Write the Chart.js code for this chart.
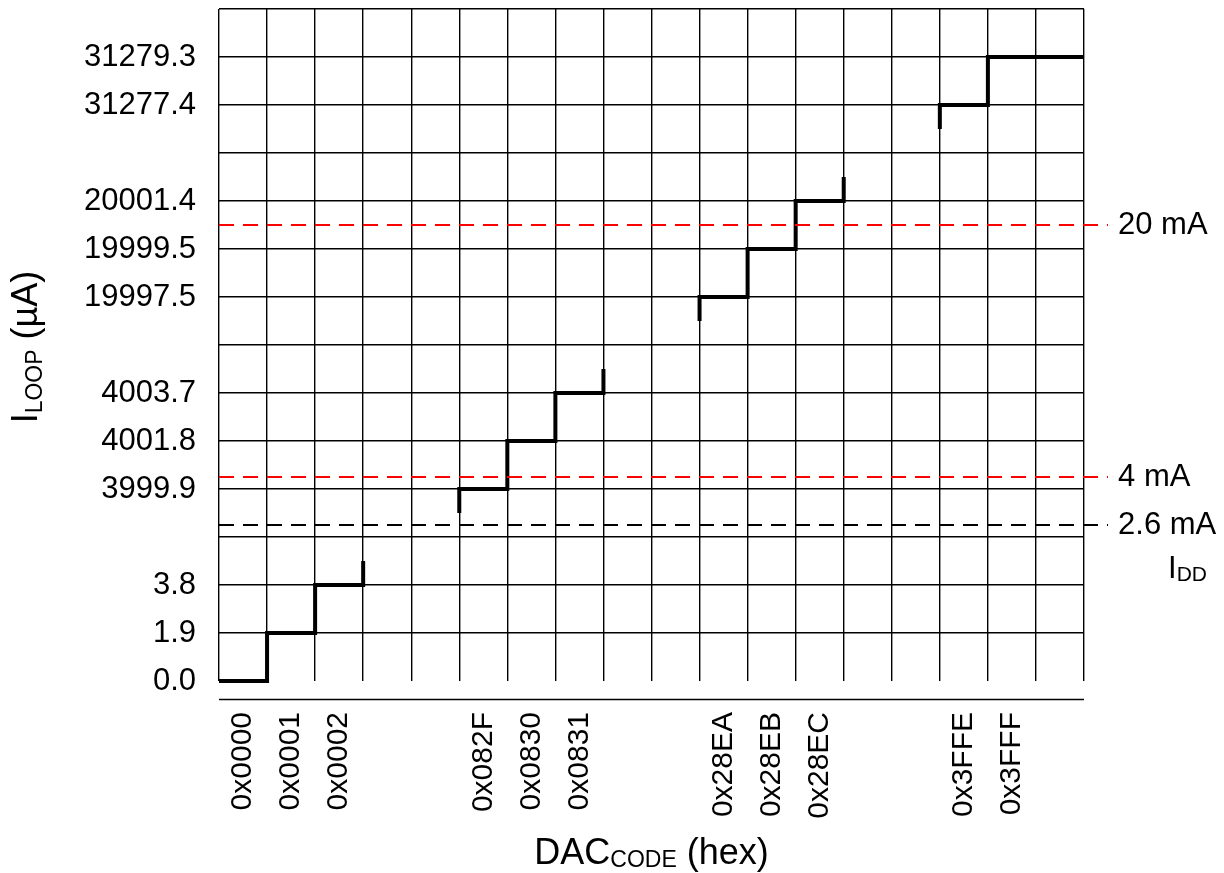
<!DOCTYPE html>
<html>
<head>
<meta charset="utf-8">
<script src="https://cdn.jsdelivr.net/npm/chart.js@4.4.0/dist/chart.umd.min.js"></script>
<style>
  html, body { margin: 0; padding: 0; background: #fff; }
</style>
</head>
<body>
<canvas id="dac-grafica" width="1224" height="873"></canvas>
<script>
// codigos DAC por columna (las vacias son los cortes del eje)
const codes = ["0x0000", "0x0001", "0x0002", "", "", "0x082F", "0x0830", "0x0831", "", "",
  "0x28EA", "0x28EB", "0x28EC", "", "", "0x3FFE", "0x3FFF", ""];
// corriente de lazo en uA para cada codigo
const iLoop = [0.0, 1.9, 3.8, null, null, 3999.9, 4001.8, 4003.7, null, null,
  19997.5, 19999.5, 20001.4, null, null, 31277.4, 31279.3, null];
// etiquetas del eje Y (eje partido, una por fila de la rejilla)
const yTicks = ["0.0", "1.9", "3.8", "", "3999.9", "4001.8", "4003.7", "", "19997.5",
  "19999.5", "20001.4", "", "31277.4", "31279.3", ""];
// lineas de referencia
const refLabels = ["20 mA", "4 mA", "2.6 mA"];
const refRows = [9.5, 4.25, 3.25];
const refColors = ["#ff0000", "#ff0000", "#000000"];

const FONT = "'Liberation Sans', Arial, sans-serif";

(function () {
  const ctx = document.getElementById("dac-grafica");

  const fila = (v) => yTicks.indexOf(v.toFixed(1));

  // agrupar codigos consecutivos
  const grupos = [];
  let actual = null;
  codes.forEach((c, i) => {
    if (c) {
      if (!actual) {
        actual = [];
        grupos.push(actual);
      }
      actual.push({ x: i, y: fila(iLoop[i]) });
    } else {
      actual = null;
    }
  });

  const escalones = grupos.map((g, n) => {
    const pts = [];
    const primero = g[0];
    const ultimo = g[g.length - 1];
    if (primero.y > 0) pts.push({ x: primero.x, y: primero.y - 0.5 });
    g.forEach((p) => pts.push(p));
    if (n === grupos.length - 1) pts.push({ x: codes.length, y: ultimo.y });
    else pts.push({ x: ultimo.x + 1, y: ultimo.y + 0.5 });
    return {
      data: pts,
      stepped: true,
      borderColor: "#000",
      borderWidth: 4,
      borderJoinStyle: "miter",
      pointRadius: 0,
      clip: false,
      fill: false,
    };
  });

  const referencias = refRows.map((r, i) => ({
    data: [{ x: 0, y: r }, { x: codes.length + 0.5, y: r }],
    borderColor: refColors[i],
    borderWidth: 2,
    borderDash: [15, 9],
    pointRadius: 0,
    clip: false,
    fill: false,
  }));

  // texto con subindice
  function textoSub(c, partes, x, y) {
    let ancho = 0;
    partes.forEach((p) => {
      c.font = p[1] + "px " + FONT;
      ancho += c.measureText(p[0]).width;
    });
    let cx = x - ancho / 2;
    partes.forEach((p) => {
      c.font = p[1] + "px " + FONT;
      c.fillText(p[0], cx, y + p[2]);
      cx += c.measureText(p[0]).width;
    });
  }

  const textos = {
    id: "textos",
    afterDraw(chart) {
      const c = chart.ctx;
      const area = chart.chartArea;
      const xs = chart.scales.x;
      const ys = chart.scales.y;
      c.save();
      c.fillStyle = "#000";
      c.strokeStyle = "#000";

      // linea del eje inferior
      c.lineWidth = 1.5;
      c.beginPath();
      c.moveTo(area.left, area.bottom + 18.5);
      c.lineTo(area.right, area.bottom + 18.5);
      c.stroke();

      // titulos
      c.textAlign = "left";
      c.textBaseline = "alphabetic";
      textoSub(c, [["DAC", 36, 0], ["CODE", 23, 3], [" (hex)", 36, 0]], (area.left + area.right) / 2, 864);

      c.save();
      c.translate(37, 347);
      c.rotate(-Math.PI / 2);
      textoSub(c, [["I", 36, 0], ["LOOP", 23, 5], [" (\u00b5A)", 36, 0]], 0, 0);
      c.restore();

      // etiquetas de referencia
      const lx = xs.getPixelForValue(codes.length + 0.5) + 10;
      c.textBaseline = "middle";
      c.font = "31px " + FONT;
      refRows.forEach((r, i) => {
        c.fillText(refLabels[i], lx, ys.getPixelForValue(r));
      });
      c.textBaseline = "alphabetic";
      const yIdd = ys.getPixelForValue(refRows[2]) + 53;
      c.font = "31px " + FONT;
      c.fillText("I", lx + 50, yIdd);
      const wI = c.measureText("I").width;
      c.font = "21px " + FONT;
      c.fillText("DD", lx + 50 + wI, yIdd + 3);

      c.restore();
    },
  };

  new Chart(ctx, {
    type: "line",
    data: { datasets: [...referencias, ...escalones] },
    plugins: [textos],
    options: {
      responsive: false,
      animation: false,
      layout: { padding: { top: 9, right: 140, left: 0, bottom: 0 } },
      plugins: {
        legend: { display: false },
        tooltip: { enabled: false },
      },
      scales: {
        x: {
          type: "linear",
          min: 0,
          max: codes.length,
          afterBuildTicks: (s) => {
            const t = [];
            for (let i = 0; i <= codes.length * 2; i++) t.push({ value: i / 2 });
            s.ticks = t;
          },
          afterFit: (s) => {
            s.height = 192;
            s.paddingLeft = 0;
            s.paddingRight = 0;
          },
          grid: {
            color: (c) => (Number.isInteger(c.tick.value) ? "#000" : "rgba(0,0,0,0)"),
            lineWidth: 1.4,
            drawTicks: false,
          },
          border: { display: false },
          ticks: {
            autoSkip: false,
            minRotation: 90,
            maxRotation: 90,
            padding: 31,
            color: "#000",
            font: { family: FONT, size: 30 },
            callback: (v) => (Number.isInteger(v) ? "" : codes[Math.floor(v)]),
          },
        },
        y: {
          type: "linear",
          min: 0,
          max: yTicks.length - 1,
          afterBuildTicks: (s) => {
            s.ticks = yTicks.map((_, i) => ({ value: i }));
          },
          afterFit: (s) => {
            s.width = 219;
            s.paddingTop = 0;
            s.paddingBottom = 0;
          },
          grid: {
            color: (c) => (c.tick.value === 0 ? "rgba(0,0,0,0)" : "#000"),
            lineWidth: 1.4,
            drawTicks: false,
          },
          border: { display: false },
          ticks: {
            autoSkip: false,
            padding: 23,
            color: "#000",
            font: { family: FONT, size: 31 },
            callback: (v) => yTicks[v],
          },
        },
      },
    },
  });
})();
</script>
</body>
</html>
